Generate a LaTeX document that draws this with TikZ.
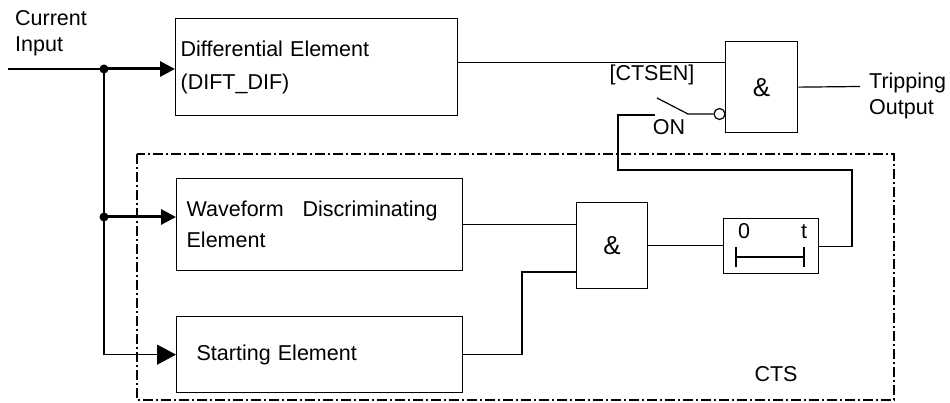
\documentclass[tikz,border=0pt]{standalone}
\usepackage{fontspec}
\setmainfont{Liberation Sans}
\usetikzlibrary{arrows.meta}

\begin{document}
\begin{tikzpicture}[x=1pt,y=-1pt,font=\fontsize{21.5}{26}\selectfont]

	\tikzstyle block=[draw,line width=1.3pt,inner sep=0pt,anchor=north west];
	\tikzstyle gate=[block,font=\fontsize{26}{28}\selectfont];
	\tikzstyle wire=[line width=1.2pt];
	\tikzstyle feed=[line width=3pt,-{Triangle[length=15pt,width=15pt]}];
	\tikzstyle feed thin=[wire,-{Triangle[length=19pt,width=20pt]}];
	\tikzstyle zone=[line width=1.2pt,dash pattern=on 10pt off 3pt on 2pt off 3pt];
	\tikzstyle lbl=[inner sep=0pt];

	\useasboundingbox (0,0) rectangle (950,403);

	% CTS area
	\draw[zone] (137,154) rectangle (894,400);
	\node[lbl] (cts) at (776,374) {CTS};

	% element blocks
	\node[block,minimum width=282pt,minimum height=97pt,text width=272pt,inner xsep=5pt,align=left] (dif) at (175,18) {Differential Element\\[7pt](DIFT\_DIF)};
	\node[block,minimum width=286pt,minimum height=92pt,text width=266pt,inner xsep=10pt,align=left] (wave) at (176,178) {\makebox[251pt]{Waveform\hfill Discriminating}\\[5pt]Element};
	\node[block,minimum width=286pt,minimum height=76pt,text width=246pt,inner xsep=20pt,align=left] (start) at (176,316) {Starting Element};

	\node[gate,minimum width=72pt,minimum height=91pt] (and1) at (725,41) {\&};
	\node[gate,minimum width=71pt,minimum height=86pt] (and2) at (576,202) {\&};
	\node[block,minimum width=95pt,minimum height=55pt] (tmr) at (723,218) {};
	\node[draw,circle,line width=1.2pt,inner sep=0pt,minimum size=11pt,fill=white] (inv) at (719.5,114) {};

	% timer
	\node[lbl] (zero) at (744,231) {0};
	\node[lbl] (tee) at (804,232) {t};
	\draw[wire] (736,247) -- (736,267) (736,257) -- (804,257) (804,247) -- (804,267);

	% texts
	\node[lbl,anchor=north west,align=left] (cur) at (15,10) {Current\\Input};
	\node[lbl,anchor=north west,align=left] (trip) at (869,73) {Tripping\\Output};
	\node[lbl] (ctsen) at (652,75) {[CTSEN]};
	\node[lbl] (on) at (669,127) {ON};

	\coordinate (in) at (8,69);
	\coordinate (j1) at (104,69);
	\coordinate (j2) at (104,217);
	\coordinate (d1) at ([yshift=4.5pt]dif.east);
	\coordinate (bend) at (522,272);
	\coordinate (out) at (860,86.5);
	\coordinate (sw) at (688,114);
	\coordinate (blade) at (657,98);
	\coordinate (onl) at (618,115);
	\coordinate (onr) at (655,115);
	\coordinate (ret) at (852,170);

	% input
	\draw[wire] (in) -- (j1);
	\draw[feed thin] (j1) |- (start.west);
	\draw[feed] (j1) -- (j1 -| dif.west);
	\draw[feed] (j2) -- (j2 -| wave.west);
	\foreach \j in {j1,j2}
		\fill (\j) circle (4.5pt);

	% outputs
	\draw[wire] (d1) -- (d1 -| and1.west);
	\draw[wire] (and1.east) -- (out);
	\draw[wire] (inv.west) -- (sw) -- (blade);
	\draw[wire] (onr) -- (onl) |- (ret) |- (tmr.east);
	\draw[wire] (wave.east) -- (wave.east -| and2.west);
	\draw[wire] (start.east) -| (bend) -- (bend -| and2.west);
	\draw[wire] (and2.east) -- (and2.east -| tmr.west);

\end{tikzpicture}
\end{document}
